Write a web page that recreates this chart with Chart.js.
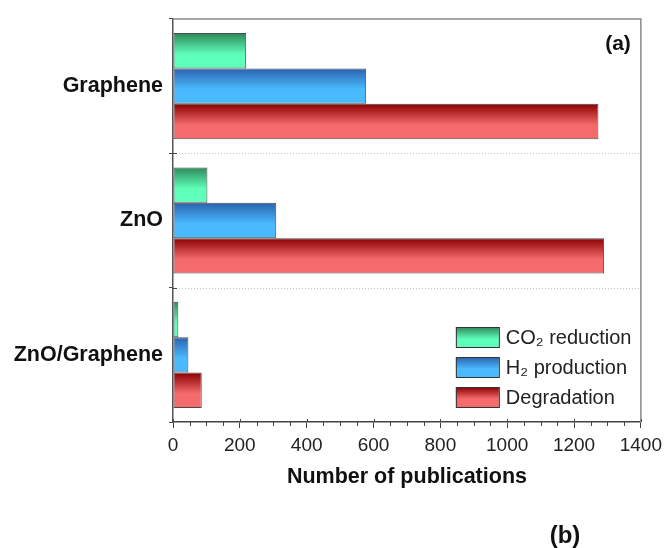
<!DOCTYPE html>
<html>
<head>
<meta charset="utf-8">
<script src="https://cdn.jsdelivr.net/npm/chart.js@4.4.0/dist/chart.umd.min.js"></script>
<style>
  html, body { margin: 0; padding: 0; background: #fff; }
  canvas { display: block; }
</style>
</head>
<body>
<canvas id="publications" width="668" height="548"></canvas>
<script>
//----- DATA -----//
const categories = ['Graphene', 'ZnO', 'ZnO/Graphene'];
const co2Reduction = [219, 103, 16];
const h2Production = [578, 309, 46];
const degradation = [1273, 1290, 86];
const seriesLabels = ['CO₂ reduction', 'H₂ production', 'Degradation'];
const xTicks = [0, 200, 400, 600, 800, 1000, 1200, 1400];

// dark top / light bottom of each bar gradient
const shades = [
    ['#2d875a', '#5effb8'],
    ['#2a62ac', '#4abaff'],
    ['#8a0000', '#f56b6b']
];

const FONT = 'Arial, "Liberation Sans", Helvetica, sans-serif';

function shade(ctx, i, top, bottom) {
    const g = ctx.createLinearGradient(0, top, 0, bottom);
    g.addColorStop(0, shades[i][0]);
    g.addColorStop(0.6, shades[i][1]);
    g.addColorStop(1, shades[i][1]);
    return g;
}

//----- PLUGINS -----//
// give every bar its own vertical gradient
const barShading = {
    id: 'barShading',
    beforeDatasetsDraw(chart) {
        chart.data.datasets.forEach((ds, i) => {
            chart.getDatasetMeta(i).data.forEach(el => {
                const h = el.height;
                el.options.backgroundColor = shade(chart.ctx, i, el.y - h / 2, el.y + h / 2);
            });
        });
    }
};

// frame, dotted separators, minor ticks, panel letters and the legend
const extras = {
    id: 'extras',
    beforeDatasetsDraw(chart) {
        const ctx = chart.ctx;
        const area = chart.chartArea;
        const y = chart.scales.y;
        const half = (y.getPixelForValue(1) - y.getPixelForValue(0)) / 2;
        ctx.save();
        ctx.strokeStyle = '#c4c4c4';
        ctx.lineWidth = 1;
        ctx.setLineDash([1, 2]);
        ctx.beginPath();
        for (let i = 0; i < categories.length - 1; i++) {
            const py = Math.round(y.getPixelForValue(i) + half) + 0.5;
            ctx.moveTo(area.left, py);
            ctx.lineTo(area.right, py);
        }
        ctx.stroke();
        ctx.restore();
    },
    afterDraw(chart) {
        const ctx = chart.ctx;
        const area = chart.chartArea;
        const x = chart.scales.x;
        const y = chart.scales.y;
        ctx.save();

        // top and right frame
        ctx.strokeStyle = '#8a8a8a';
        ctx.lineWidth = 1.5;
        ctx.beginPath();
        ctx.moveTo(area.left, area.top);
        ctx.lineTo(area.right, area.top);
        ctx.lineTo(area.right, area.bottom);
        ctx.stroke();

        // x ticks: minor every 50, majors poke up a little
        ctx.strokeStyle = '#444';
        ctx.lineWidth = 1;
        ctx.beginPath();
        for (let v = 0; v <= x.max; v += 50) {
            const px = Math.round(x.getPixelForValue(v)) + 0.5;
            if (xTicks.includes(v)) {
                ctx.moveTo(px, area.bottom - 3);
                ctx.lineTo(px, area.bottom);
            } else {
                ctx.moveTo(px, area.bottom - 1);
                ctx.lineTo(px, area.bottom + 4);
            }
        }
        // y ticks poke into the plot too
        const half = (y.getPixelForValue(1) - y.getPixelForValue(0)) / 2;
        for (let i = 0; i < categories.length - 1; i++) {
            const py = Math.round(y.getPixelForValue(i) + half) + 0.5;
            ctx.moveTo(area.left, py);
            ctx.lineTo(area.left + 4, py);
        }
        ctx.stroke();

        // panel letters
        ctx.fillStyle = '#111';
        ctx.font = 'bold 21px ' + FONT;
        ctx.textAlign = 'right';
        ctx.textBaseline = 'middle';
        ctx.fillText('(a)', area.right - 10, 44);
        ctx.font = 'bold 24px ' + FONT;
        ctx.textAlign = 'center';
        ctx.fillText('(b)', 565, 536);

        // legend
        const bx = area.right - 185;
        chart.data.datasets.forEach((ds, i) => {
            const by = area.bottom - 95 + i * 30;
            ctx.fillStyle = shade(ctx, i, by, by + 20);
            ctx.fillRect(bx, by, 43, 20);
            ctx.strokeStyle = '#333';
            ctx.lineWidth = 1;
            ctx.strokeRect(bx + 0.5, by + 0.5, 43, 20);
            ctx.fillStyle = '#222';
            ctx.font = '20px ' + FONT;
            ctx.textAlign = 'left';
            ctx.textBaseline = 'middle';
            ctx.fillText(ds.label, bx + 50, by + 11);
        });
        ctx.restore();
    }
};

//----- CONFIG -----//
const data = {
    labels: categories,
    datasets: [co2Reduction, h2Production, degradation].map((values, i) => ({
        label: seriesLabels[i],
        data: values,
        backgroundColor: () => shades[i][1],
        borderColor: 'rgba(30,30,30,0.8)',
        borderWidth: 1,
        borderSkipped: false,
        categoryPercentage: 0.79,
        barPercentage: 1.0
    }))
};

const config = {
    type: 'bar',
    data: data,
    plugins: [barShading, extras],
    options: {
        indexAxis: 'y',
        responsive: false,
        animation: false,
        layout: { padding: { top: 16, right: 25, left: 0, bottom: 0 } },
        plugins: {
            legend: { display: false },
            tooltip: { enabled: false }
        },
        scales: {
            x: {
                type: 'linear',
                min: 0,
                max: 1400,
                ticks: {
                    stepSize: 200,
                    color: '#222',
                    padding: 6,
                    font: { family: FONT, size: 19 },
                    callback: v => String(v)
                },
                grid: {
                    drawOnChartArea: false,
                    tickLength: 6,
                    tickColor: '#444'
                },
                border: { color: '#444', width: 1.5 },
                title: {
                    display: true,
                    text: 'Number of publications',
                    color: '#111',
                    font: { family: FONT, size: 21.5, weight: 'bold' },
                    padding: { top: 0, bottom: 58 }
                },
                afterFit: scale => { scale.height = 126; }
            },
            y: {
                ticks: {
                    color: '#111',
                    padding: 6,
                    font: { family: FONT, size: 21.5, weight: 'bold' }
                },
                grid: {
                    drawOnChartArea: false,
                    tickLength: 4,
                    tickColor: '#444'
                },
                border: { color: '#555', width: 1.5 },
                afterFit: scale => { scale.width = 173; }
            }
        }
    }
};

//----- RENDER -----//
const publications = new Chart(
    document.getElementById('publications'),
    config
);
</script>
</body>
</html>
